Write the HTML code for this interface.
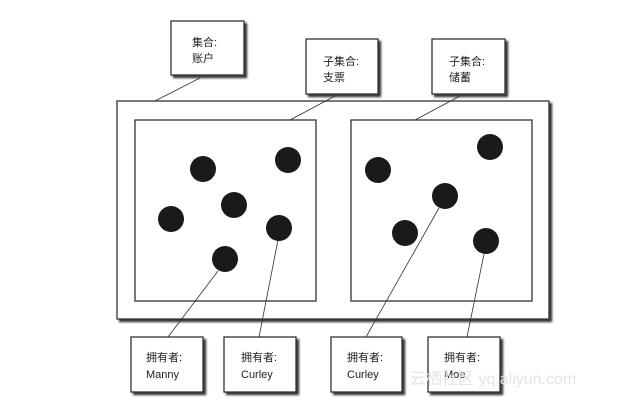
<!DOCTYPE html>
<html><head><meta charset="utf-8"><style>
body{margin:0;background:#fff;}
svg text{font-family:"Liberation Sans","Noto Sans CJK SC",sans-serif;font-size:11px;fill:#222;}
</style></head><body>
<svg width="629" height="400" viewBox="0 0 629 400" xmlns="http://www.w3.org/2000/svg">
<defs>
<filter id="sh" x="-10%" y="-10%" width="130%" height="130%"><feGaussianBlur in="SourceAlpha" stdDeviation="1"/><feOffset dx="2.5" dy="2.5"/><feComponentTransfer><feFuncA type="linear" slope="0.8"/></feComponentTransfer><feMerge><feMergeNode/><feMergeNode in="SourceGraphic"/></feMerge></filter>
</defs>
<g stroke="#333" stroke-width="1.3" fill="#fff" filter="url(#sh)">
<rect x="117" y="101" width="432" height="218"/>
<rect x="135" y="120" width="181" height="181"/>
<rect x="351" y="120" width="181" height="181"/>
<rect x="171" y="21" width="73" height="54"/>
<rect x="306" y="39" width="72" height="55"/>
<rect x="432" y="39" width="73" height="55"/>
<rect x="131" y="337" width="72" height="55"/>
<rect x="224" y="337" width="72" height="55"/>
<rect x="331" y="337" width="71" height="55"/>
<rect x="428" y="337" width="72" height="55"/>
</g>
<g stroke="#333" stroke-width="0.8">
<line x1="200" y1="78" x2="155" y2="101"/>
<line x1="335" y1="96" x2="290" y2="120"/>
<line x1="460" y1="96" x2="415" y2="120"/>
<line x1="218" y1="271" x2="168" y2="337"/>
<line x1="278" y1="240" x2="259" y2="337"/>
<line x1="439" y1="208" x2="366" y2="337"/>
<line x1="484" y1="254" x2="467" y2="337"/>
</g>
<g fill="#1a1a1a">
<circle cx="203" cy="169" r="13"/><circle cx="288" cy="160" r="13"/>
<circle cx="234" cy="205" r="13"/><circle cx="171" cy="219" r="13"/>
<circle cx="279" cy="228" r="13"/><circle cx="225" cy="259" r="13"/>
<circle cx="378" cy="170" r="13"/><circle cx="490" cy="147" r="13"/>
<circle cx="445" cy="196" r="13"/><circle cx="405" cy="233" r="13"/>
<circle cx="486" cy="241" r="13"/>
</g>
<text x="192" y="46">集合:</text><text x="192" y="62">账户</text>
<text x="323" y="65">子集合:</text><text x="323" y="81">支票</text>
<text x="449" y="65">子集合:</text><text x="449" y="81">储蓄</text>
<text x="146" y="361">拥有者:</text><text x="146" y="378">Manny</text>
<text x="241" y="361">拥有者:</text><text x="241" y="378">Curley</text>
<text x="347" y="361">拥有者:</text><text x="347" y="378">Curley</text>
<text x="444" y="361">拥有者:</text><text x="444" y="378">Moe</text>
<text x="410" y="384" style="font-size:16px;fill:#e4e4e4">云栖社区 yq.aliyun.com</text>
</svg>
</body></html>
